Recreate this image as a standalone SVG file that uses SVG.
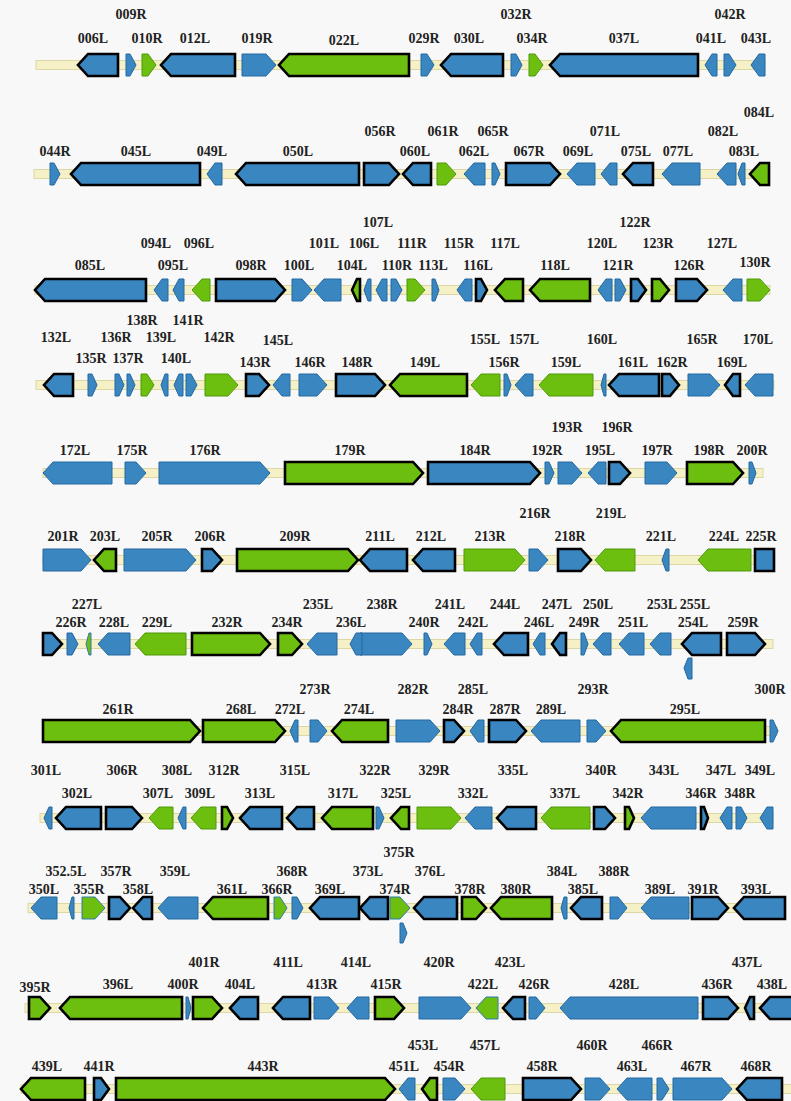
<svg xmlns="http://www.w3.org/2000/svg" width="791" height="1101" viewBox="0 0 791 1101">
<style>
.bg{fill:#f8f8f8}
.bb{fill:#f5f0c6;stroke:#ddd7a6;stroke-width:1}
.b{fill:#3a86c0;stroke:#2368a2;stroke-width:1;stroke-linejoin:miter}
.g{fill:#6cbf0e;stroke:#4f980c;stroke-width:1;stroke-linejoin:miter}
.gb{fill:#6cbf0e;stroke:#2f7ab5;stroke-width:1;stroke-linejoin:miter}
.k{stroke:#000;stroke-width:2.6}
text{font-family:"Liberation Serif",serif;font-weight:bold;font-size:14px;fill:#222;text-anchor:middle}
</style>
<rect class="bg" x="0" y="0" width="791" height="1101"/>
<g id="connectors">
<rect class="bb" x="36" y="60.5" width="729" height="9"/>
<rect class="bb" x="34" y="169.5" width="735" height="9"/>
<rect class="bb" x="35" y="285.5" width="735" height="9"/>
<rect class="bb" x="36" y="380.5" width="738" height="9"/>
<rect class="bb" x="43" y="468.5" width="720" height="9"/>
<rect class="bb" x="43" y="555.5" width="730" height="9"/>
<rect class="bb" x="43" y="639.5" width="730" height="9"/>
<rect class="bb" x="43" y="726.5" width="734" height="9"/>
<rect class="bb" x="40" y="813.5" width="733" height="9"/>
<rect class="bb" x="28" y="903.5" width="757" height="9"/>
<rect class="bb" x="25" y="1003.5" width="770" height="9"/>
<rect class="bb" x="21" y="1084.5" width="775" height="9"/>
</g>

<g id="row1" transform="translate(0,65)">
<g id="g006L"><polygon class="b k" points="118,-11 88,-11 78,0 88,11 118,11"/><text x="93" y="-22">006L</text></g>
<g id="g009R"><polygon class="b" points="126,-11 130,-11 136,0 130,11 126,11"/><text x="131" y="-46">009R</text></g>
<g id="g010R"><polygon class="g" points="142,-11 148,-11 156,0 148,11 142,11"/><text x="147" y="-22">010R</text></g>
<g id="g012L"><polygon class="b k" points="235,-11 171,-11 161,0 171,11 235,11"/><text x="195" y="-22">012L</text></g>
<g id="g019R"><polygon class="b" points="242,-11 266,-11 276,0 266,11 242,11"/><text x="257" y="-22">019R</text></g>
<g id="g022L"><polygon class="g k" points="409,-11 289,-11 279,0 289,11 409,11"/><text x="344" y="-20">022L</text></g>
<g id="g029R"><polygon class="b" points="421,-11 427,-11 434,0 427,11 421,11"/><text x="424" y="-22">029R</text></g>
<g id="g030L"><polygon class="b k" points="503,-11 451,-11 441,0 451,11 503,11"/><text x="469" y="-22">030L</text></g>
<g id="g032R"><polygon class="b" points="511,-11 516,-11 522,0 516,11 511,11"/><text x="516" y="-46">032R</text></g>
<g id="g034R"><polygon class="g" points="529,-11 535,-11 543,0 535,11 529,11"/><text x="532" y="-22">034R</text></g>
<g id="g037L"><polygon class="b k" points="698,-11 560,-11 550,0 560,11 698,11"/><text x="624" y="-22">037L</text></g>
<g id="g041L"><polygon class="b" points="717,-11 712,-11 705,0 712,11 717,11"/><text x="711" y="-22">041L</text></g>
<g id="g042R"><polygon class="b" points="724,-11 729,-11 736,0 729,11 724,11"/><text x="730" y="-46">042R</text></g>
<g id="g043L"><polygon class="b" points="765,-11 759,-11 751,0 759,11 765,11"/><text x="756" y="-22">043L</text></g>
</g>

<g id="row2" transform="translate(0,174)">
<g id="g044R"><polygon class="b" points="50,-11 54,-11 60,0 54,11 50,11"/><text x="55" y="-18">044R</text></g>
<g id="g045L"><polygon class="b k" points="200,-11 81,-11 71,0 81,11 200,11"/><text x="136" y="-18">045L</text></g>
<g id="g049L"><polygon class="b" points="222,-11 215,-11 207,0 215,11 222,11"/><text x="212" y="-18">049L</text></g>
<g id="g050L"><polygon class="b k" points="359,-11 246,-11 236,0 246,11 359,11"/><text x="298" y="-18">050L</text></g>
<g id="g056R"><polygon class="b k" points="364,-11 389,-11 399,0 389,11 364,11"/><text x="380" y="-38">056R</text></g>
<g id="g060L"><polygon class="b k" points="431,-11 413,-11 403,0 413,11 431,11"/><text x="415" y="-18">060L</text></g>
<g id="g061R"><polygon class="g" points="437,-11 446,-11 456,0 446,11 437,11"/><text x="443" y="-38">061R</text></g>
<g id="g062L"><polygon class="b" points="485,-11 474,-11 464,0 474,11 485,11"/><text x="474" y="-18">062L</text></g>
<g id="g065R"><polygon class="b" points="492,-11 495,-11 500,0 495,11 492,11"/><text x="493" y="-38">065R</text></g>
<g id="g067R"><polygon class="b k" points="506,-11 550,-11 560,0 550,11 506,11"/><text x="529" y="-18">067R</text></g>
<g id="g069L"><polygon class="b" points="595,-11 577,-11 567,0 577,11 595,11"/><text x="578" y="-18">069L</text></g>
<g id="g071L"><polygon class="b" points="617,-11 610,-11 601,0 610,11 617,11"/><text x="605" y="-38">071L</text></g>
<g id="g075L"><polygon class="b k" points="653,-11 633,-11 623,0 633,11 653,11"/><text x="636" y="-18">075L</text></g>
<g id="g077L"><polygon class="b" points="700,-11 672,-11 662,0 672,11 700,11"/><text x="678" y="-18">077L</text></g>
<g id="g082L"><polygon class="b" points="736,-11 727,-11 717,0 727,11 736,11"/><text x="723" y="-38">082L</text></g>
<g id="g083L"><polygon class="b" points="745,-11 742,-11 738,0 742,11 745,11"/><text x="744" y="-18">083L</text></g>
<g id="g084L"><polygon class="g k" points="769,-11 760,-11 750,0 760,11 769,11"/><text x="759" y="-57">084L</text></g>
</g>

<g id="row3" transform="translate(0,290)">
<g id="g085L"><polygon class="b k" points="146,-11 45,-11 35,0 45,11 146,11"/><text x="90" y="-20">085L</text></g>
<g id="g094L"><polygon class="b" points="168,-11 162,-11 154,0 162,11 168,11"/><text x="156" y="-42">094L</text></g>
<g id="g095L"><polygon class="b" points="184,-11 179,-11 173,0 179,11 184,11"/><text x="173" y="-20">095L</text></g>
<g id="g096L"><polygon class="g" points="210,-11 202,-11 192,0 202,11 210,11"/><text x="199" y="-42">096L</text></g>
<g id="g098R"><polygon class="b k" points="216,-11 275,-11 285,0 275,11 216,11"/><text x="251" y="-20">098R</text></g>
<g id="g100L"><polygon class="b" points="292,-11 302,-11 312,0 302,11 292,11"/><text x="299" y="-20">100L</text></g>
<g id="g101L"><polygon class="b" points="341,-11 324,-11 314,0 324,11 341,11"/><text x="324" y="-42">101L</text></g>
<g id="g104L"><polygon class="g k" points="360,-11 357,-11 352,0 357,11 360,11"/><text x="352" y="-20">104L</text></g>
<g id="g106L"><polygon class="b" points="371,-11 368,-11 364,0 368,11 371,11"/><text x="364" y="-42">106L</text></g>
<g id="g107L"><polygon class="b" points="387,-11 382,-11 376,0 382,11 387,11"/><text x="378" y="-63">107L</text></g>
<g id="g110R"><polygon class="b" points="391,-11 396,-11 402,0 396,11 391,11"/><text x="397" y="-20">110R</text></g>
<g id="g111R"><polygon class="g" points="407,-11 415,-11 425,0 415,11 407,11"/><text x="412" y="-42">111R</text></g>
<g id="g113L"><polygon class="b" points="432,-11 435,-11 439,0 435,11 432,11"/><text x="433" y="-20">113L</text></g>
<g id="g115R"><polygon class="b" points="472,-11 465,-11 457,0 465,11 472,11"/><text x="459" y="-42">115R</text></g>
<g id="g116L"><polygon class="b k" points="476,-11 481,-11 487,0 481,11 476,11"/><text x="478" y="-20">116L</text></g>
<g id="g117L"><polygon class="g k" points="523,-11 505,-11 495,0 505,11 523,11"/><text x="505" y="-42">117L</text></g>
<g id="g118L"><polygon class="g k" points="590,-11 540,-11 530,0 540,11 590,11"/><text x="555" y="-20">118L</text></g>
<g id="g120L"><polygon class="b" points="612,-11 606,-11 598,0 606,11 612,11"/><text x="602" y="-42">120L</text></g>
<g id="g121R"><polygon class="b" points="615,-11 620,-11 626,0 620,11 615,11"/><text x="618" y="-20">121R</text></g>
<g id="g122R"><polygon class="b k" points="631,-11 638,-11 646,0 638,11 631,11"/><text x="635" y="-63">122R</text></g>
<g id="g123R"><polygon class="g k" points="652,-11 660,-11 669,0 660,11 652,11"/><text x="658" y="-42">123R</text></g>
<g id="g126R"><polygon class="b k" points="676,-11 697,-11 707,0 697,11 676,11"/><text x="689" y="-20">126R</text></g>
<g id="g127L"><polygon class="b" points="742,-11 733,-11 723,0 733,11 742,11"/><text x="722" y="-42">127L</text></g>
<g id="g130R"><polygon class="g" points="747,-11 760,-11 770,0 760,11 747,11"/><text x="755" y="-23">130R</text></g>
</g>

<g id="row4" transform="translate(0,385)">
<g id="g132L"><polygon class="b k" points="73,-11 54,-11 44,0 54,11 73,11"/><text x="56" y="-43">132L</text></g>
<g id="g135R"><polygon class="b" points="88,-11 92,-11 97,0 92,11 88,11"/><text x="91" y="-22">135R</text></g>
<g id="g136R"><polygon class="b" points="115,-11 119,-11 124,0 119,11 115,11"/><text x="116" y="-43">136R</text></g>
<g id="g137R"><polygon class="b" points="127,-11 130,-11 135,0 130,11 127,11"/><text x="128" y="-22">137R</text></g>
<g id="g138R"><polygon class="g" points="141,-11 147,-11 154,0 147,11 141,11"/><text x="142" y="-60">138R</text></g>
<g id="g139L"><polygon class="b" points="168,-11 165,-11 161,0 165,11 168,11"/><text x="161" y="-43">139L</text></g>
<g id="g140L"><polygon class="b" points="183,-11 179,-11 174,0 179,11 183,11"/><text x="176" y="-22">140L</text></g>
<g id="g141R"><polygon class="b" points="186,-11 191,-11 197,0 191,11 186,11"/><text x="188" y="-60">141R</text></g>
<g id="g142R"><polygon class="g" points="205,-11 228,-11 238,0 228,11 205,11"/><text x="219" y="-43">142R</text></g>
<g id="g143R"><polygon class="b k" points="246,-11 259,-11 269,0 259,11 246,11"/><text x="255" y="-18">143R</text></g>
<g id="g145L"><polygon class="b" points="290,-11 282,-11 273,0 282,11 290,11"/><text x="278" y="-40">145L</text></g>
<g id="g146R"><polygon class="b" points="299,-11 317,-11 327,0 317,11 299,11"/><text x="310" y="-18">146R</text></g>
<g id="g148R"><polygon class="b k" points="336,-11 375,-11 385,0 375,11 336,11"/><text x="357" y="-18">148R</text></g>
<g id="g149L"><polygon class="g k" points="467,-11 400,-11 390,0 400,11 467,11"/><text x="425" y="-18">149L</text></g>
<g id="g155L"><polygon class="g" points="500,-11 481,-11 471,0 481,11 500,11"/><text x="485" y="-41">155L</text></g>
<g id="g156R"><polygon class="b" points="504,-11 507,-11 511,0 507,11 504,11"/><text x="504" y="-18">156R</text></g>
<g id="g157L"><polygon class="b" points="533,-11 525,-11 515,0 525,11 533,11"/><text x="524" y="-41">157L</text></g>
<g id="g159L"><polygon class="g" points="593,-11 549,-11 539,0 549,11 593,11"/><text x="566" y="-18">159L</text></g>
<g id="g160L"><polygon class="b" points="606,-11 604,-11 601,0 604,11 606,11"/><text x="602" y="-41">160L</text></g>
<g id="g161L"><polygon class="b k" points="659,-11 619,-11 609,0 619,11 659,11"/><text x="633" y="-18">161L</text></g>
<g id="g162R"><polygon class="b k" points="662,-11 670,-11 679,0 670,11 662,11"/><text x="672" y="-18">162R</text></g>
<g id="g165R"><polygon class="b" points="688,-11 710,-11 720,0 710,11 688,11"/><text x="702" y="-41">165R</text></g>
<g id="g169L"><polygon class="b k" points="740,-11 733,-11 725,0 733,11 740,11"/><text x="732" y="-18">169L</text></g>
<g id="g170L"><polygon class="b" points="773,-11 755,-11 745,0 755,11 773,11"/><text x="758" y="-41">170L</text></g>
</g>

<g id="row5" transform="translate(0,473)">
<g id="g172L"><polygon class="b" points="112,-11 53,-11 43,0 53,11 112,11"/><text x="75" y="-18">172L</text></g>
<g id="g175R"><polygon class="b" points="125,-11 136,-11 146,0 136,11 125,11"/><text x="132" y="-18">175R</text></g>
<g id="g176R"><polygon class="b" points="159,-11 260,-11 270,0 260,11 159,11"/><text x="205" y="-18">176R</text></g>
<g id="g179R"><polygon class="g k" points="285,-11 413,-11 423,0 413,11 285,11"/><text x="350" y="-18">179R</text></g>
<g id="g184R"><polygon class="b k" points="428,-11 530,-11 540,0 530,11 428,11"/><text x="475" y="-18">184R</text></g>
<g id="g192R"><polygon class="b" points="545,-11 549,-11 554,0 549,11 545,11"/><text x="547" y="-18">192R</text></g>
<g id="g193R"><polygon class="b" points="558,-11 572,-11 582,0 572,11 558,11"/><text x="567" y="-41">193R</text></g>
<g id="g195L"><polygon class="b" points="606,-11 598,-11 588,0 598,11 606,11"/><text x="600" y="-18">195L</text></g>
<g id="g196R"><polygon class="b k" points="609,-11 620,-11 630,0 620,11 609,11"/><text x="617" y="-41">196R</text></g>
<g id="g197R"><polygon class="b" points="645,-11 667,-11 677,0 667,11 645,11"/><text x="657" y="-18">197R</text></g>
<g id="g198R"><polygon class="g k" points="687,-11 733,-11 743,0 733,11 687,11"/><text x="709" y="-18">198R</text></g>
<g id="g200R"><polygon class="b" points="749,-11 752,-11 756,0 752,11 749,11"/><text x="752" y="-18">200R</text></g>
</g>

<g id="row6" transform="translate(0,560)">
<g id="g201R"><polygon class="b" points="43,-11 81,-11 91,0 81,11 43,11"/><text x="63" y="-19">201R</text></g>
<g id="g203L"><polygon class="g k" points="116,-11 104,-11 94,0 104,11 116,11"/><text x="105" y="-19">203L</text></g>
<g id="g205R"><polygon class="b" points="124,-11 186,-11 196,0 186,11 124,11"/><text x="157" y="-19">205R</text></g>
<g id="g206R"><polygon class="b k" points="202,-11 212,-11 222,0 212,11 202,11"/><text x="210" y="-19">206R</text></g>
<g id="g209R"><polygon class="g k" points="237,-11 348,-11 358,0 348,11 237,11"/><text x="295" y="-19">209R</text></g>
<g id="g211L"><polygon class="b k" points="407,-11 370,-11 360,0 370,11 407,11"/><text x="380" y="-19">211L</text></g>
<g id="g212L"><polygon class="b k" points="455,-11 423,-11 413,0 423,11 455,11"/><text x="431" y="-19">212L</text></g>
<g id="g213R"><polygon class="g" points="464,-11 515,-11 525,0 515,11 464,11"/><text x="490" y="-19">213R</text></g>
<g id="g216R"><polygon class="b" points="529,-11 538,-11 548,0 538,11 529,11"/><text x="535" y="-42">216R</text></g>
<g id="g218R"><polygon class="b k" points="558,-11 581,-11 591,0 581,11 558,11"/><text x="570" y="-19">218R</text></g>
<g id="g219L"><polygon class="g" points="635,-11 605,-11 595,0 605,11 635,11"/><text x="611" y="-42">219L</text></g>
<g id="g221L"><polygon class="b" points="669,-11 666,-11 662,0 666,11 669,11"/><text x="661" y="-19">221L</text></g>
<g id="g224L"><polygon class="g" points="751,-11 708,-11 698,0 708,11 751,11"/><text x="724" y="-19">224L</text></g>
<g id="g225R"><polygon class="b k" points="755,-11 774,-11 774,11 755,11"/><text x="761" y="-19">225R</text></g>
</g>

<g id="row7" transform="translate(0,644)">
<g id="g226Ra"><polygon class="b k" points="43,-11 52,-11 62,0 52,11 43,11"/></g>
<g id="g226R"><polygon class="b" points="67,-11 72,-11 78,0 72,11 67,11"/><text x="71" y="-17">226R</text></g>
<g id="g227L"><polygon class="gb" points="91,-11 89,-11 86,0 89,11 91,11"/><text x="87" y="-35">227L</text></g>
<g id="g228L"><polygon class="b" points="130,-11 108,-11 98,0 108,11 130,11"/><text x="114" y="-17">228L</text></g>
<g id="g229L"><polygon class="g" points="186,-11 145,-11 135,0 145,11 186,11"/><text x="157" y="-17">229L</text></g>
<g id="g232R"><polygon class="g k" points="192,-11 260,-11 270,0 260,11 192,11"/><text x="227" y="-17">232R</text></g>
<g id="g234R"><polygon class="g k" points="278,-11 292,-11 302,0 292,11 278,11"/><text x="287" y="-17">234R</text></g>
<g id="g235L"><polygon class="b" points="337,-11 317,-11 307,0 317,11 337,11"/><text x="318" y="-35">235L</text></g>
<g id="g238R"><polygon class="b" points="360,-11 402,-11 412,0 402,11 360,11"/><text x="382" y="-35">238R</text></g>
<g id="g236L"><polygon class="b" points="362,-11 356,-11 350,0 356,11 362,11"/><text x="351" y="-17">236L</text></g>
<g id="g240R"><polygon class="b" points="424,-11 427,-11 432,0 427,11 424,11"/><text x="424" y="-17">240R</text></g>
<g id="g241L"><polygon class="b" points="465,-11 454,-11 444,0 454,11 465,11"/><text x="450" y="-35">241L</text></g>
<g id="g242L"><polygon class="b" points="482,-11 477,-11 470,0 477,11 482,11"/><text x="473" y="-17">242L</text></g>
<g id="g244L"><polygon class="b k" points="528,-11 504,-11 494,0 504,11 528,11"/><text x="505" y="-35">244L</text></g>
<g id="g246L"><polygon class="b" points="545,-11 540,-11 533,0 540,11 545,11"/><text x="539" y="-17">246L</text></g>
<g id="g247L"><polygon class="b k" points="566,-11 560,-11 552,0 560,11 566,11"/><text x="557" y="-35">247L</text></g>
<g id="g249R"><polygon class="b" points="581,-11 584,-11 588,0 584,11 581,11"/><text x="584" y="-17">249R</text></g>
<g id="g250L"><polygon class="b" points="611,-11 603,-11 593,0 603,11 611,11"/><text x="598" y="-35">250L</text></g>
<g id="g251L"><polygon class="b" points="644,-11 629,-11 619,0 629,11 644,11"/><text x="633" y="-17">251L</text></g>
<g id="g253L"><polygon class="b" points="671,-11 660,-11 650,0 660,11 671,11"/><text x="662" y="-35">253L</text></g>
<g id="g254L"><polygon class="b k" points="721,-11 692,-11 682,0 692,11 721,11"/><text x="693" y="-17">254L</text></g>
<g id="g255L"><polygon class="b" points="692,14 688,14 684,24 688,35 692,35"/><text x="695" y="-35">255L</text></g>
<g id="g259R"><polygon class="b k" points="727,-11 755,-11 765,0 755,11 727,11"/><text x="743" y="-17">259R</text></g>
</g>

<g id="row8" transform="translate(0,731)">
<g id="g261R"><polygon class="g k" points="43,-11 190,-11 200,0 190,11 43,11"/><text x="118" y="-17">261R</text></g>
<g id="g268L"><polygon class="g k" points="203,-11 275,-11 285,0 275,11 203,11"/><text x="241" y="-17">268L</text></g>
<g id="g272L"><polygon class="b" points="298,-11 295,-11 290,0 295,11 298,11"/><text x="290" y="-17">272L</text></g>
<g id="g273R"><polygon class="b" points="310,-11 318,-11 327,0 318,11 310,11"/><text x="315" y="-37">273R</text></g>
<g id="g274L"><polygon class="g k" points="388,-11 342,-11 332,0 342,11 388,11"/><text x="359" y="-17">274L</text></g>
<g id="g282R"><polygon class="b" points="396,-11 430,-11 440,0 430,11 396,11"/><text x="413" y="-37">282R</text></g>
<g id="g284R"><polygon class="b k" points="444,-11 454,-11 464,0 454,11 444,11"/><text x="458" y="-17">284R</text></g>
<g id="g285L"><polygon class="b" points="484,-11 478,-11 470,0 478,11 484,11"/><text x="473" y="-37">285L</text></g>
<g id="g287R"><polygon class="b k" points="489,-11 516,-11 526,0 516,11 489,11"/><text x="505" y="-17">287R</text></g>
<g id="g289L"><polygon class="b" points="580,-11 541,-11 531,0 541,11 580,11"/><text x="551" y="-17">289L</text></g>
<g id="g293R"><polygon class="b" points="587,-11 596,-11 606,0 596,11 587,11"/><text x="593" y="-37">293R</text></g>
<g id="g295L"><polygon class="g k" points="765,-11 621,-11 611,0 621,11 765,11"/><text x="685" y="-17">295L</text></g>
<g id="g300R"><polygon class="b" points="770,-11 773,-11 778,0 773,11 770,11"/><text x="770" y="-37">300R</text></g>
</g>

<g id="row9" transform="translate(0,818)">
<g id="g301L"><polygon class="b" points="52,-11 49,-11 44,0 49,11 52,11"/><text x="46" y="-43">301L</text></g>
<g id="g302L"><polygon class="b k" points="101,-11 66,-11 56,0 66,11 101,11"/><text x="77" y="-20">302L</text></g>
<g id="g306R"><polygon class="b k" points="106,-11 132,-11 142,0 132,11 106,11"/><text x="122" y="-43">306R</text></g>
<g id="g307L"><polygon class="g" points="173,-11 159,-11 149,0 159,11 173,11"/><text x="158" y="-20">307L</text></g>
<g id="g308L"><polygon class="b" points="186,-11 183,-11 178,0 183,11 186,11"/><text x="177" y="-43">308L</text></g>
<g id="g309L"><polygon class="g" points="216,-11 201,-11 191,0 201,11 216,11"/><text x="200" y="-20">309L</text></g>
<g id="g312R"><polygon class="g k" points="222,-11 227,-11 233,0 227,11 222,11"/><text x="224" y="-43">312R</text></g>
<g id="g313L"><polygon class="b k" points="282,-11 250,-11 240,0 250,11 282,11"/><text x="260" y="-20">313L</text></g>
<g id="g315L"><polygon class="b k" points="314,-11 297,-11 287,0 297,11 314,11"/><text x="295" y="-43">315L</text></g>
<g id="g317L"><polygon class="g k" points="373,-11 332,-11 322,0 332,11 373,11"/><text x="343" y="-20">317L</text></g>
<g id="g322R"><polygon class="b" points="376,-11 379,-11 384,0 379,11 376,11"/><text x="375" y="-43">322R</text></g>
<g id="g325L"><polygon class="g k" points="409,-11 401,-11 391,0 401,11 409,11"/><text x="396" y="-20">325L</text></g>
<g id="g329R"><polygon class="g" points="417,-11 451,-11 461,0 451,11 417,11"/><text x="434" y="-43">329R</text></g>
<g id="g332L"><polygon class="b" points="492,-11 475,-11 465,0 475,11 492,11"/><text x="473" y="-20">332L</text></g>
<g id="g335L"><polygon class="b k" points="536,-11 507,-11 497,0 507,11 536,11"/><text x="513" y="-43">335L</text></g>
<g id="g337L"><polygon class="g" points="590,-11 551,-11 541,0 551,11 590,11"/><text x="565" y="-20">337L</text></g>
<g id="g340R"><polygon class="b k" points="594,-11 605,-11 615,0 605,11 594,11"/><text x="601" y="-43">340R</text></g>
<g id="g342R"><polygon class="g k" points="625,-11 629,-11 634,0 629,11 625,11"/><text x="628" y="-20">342R</text></g>
<g id="g343L"><polygon class="b" points="696,-11 651,-11 641,0 651,11 696,11"/><text x="664" y="-43">343L</text></g>
<g id="g346R"><polygon class="b k" points="701,-11 704,-11 708,0 704,11 701,11"/><text x="701" y="-20">346R</text></g>
<g id="g347L"><polygon class="b" points="732,-11 727,-11 720,0 727,11 732,11"/><text x="721" y="-43">347L</text></g>
<g id="g348R"><polygon class="b" points="736,-11 741,-11 747,0 741,11 736,11"/><text x="740" y="-20">348R</text></g>
<g id="g349L"><polygon class="b" points="773,-11 767,-11 760,0 767,11 773,11"/><text x="760" y="-43">349L</text></g>
</g>

<g id="row10" transform="translate(0,908)">
<g id="g350L"><polygon class="b" points="57,-11 41,-11 31,0 41,11 57,11"/><text x="44" y="-14">350L</text></g>
<g id="g352_5L"><polygon class="b" points="74,-11 72,-11 69,0 72,11 74,11"/><text x="66" y="-32">352.5L</text></g>
<g id="g355R"><polygon class="gb" points="82,-11 95,-11 105,0 95,11 82,11"/><text x="89" y="-14">355R</text></g>
<g id="g357R"><polygon class="b k" points="109,-11 120,-11 130,0 120,11 109,11"/><text x="116" y="-32">357R</text></g>
<g id="g358L"><polygon class="b k" points="152,-11 143,-11 133,0 143,11 152,11"/><text x="138" y="-14">358L</text></g>
<g id="g359L"><polygon class="b" points="198,-11 168,-11 158,0 168,11 198,11"/><text x="175" y="-32">359L</text></g>
<g id="g361L"><polygon class="g k" points="268,-11 213,-11 203,0 213,11 268,11"/><text x="232" y="-14">361L</text></g>
<g id="g366R"><polygon class="gb" points="274,-11 280,-11 287,0 280,11 274,11"/><text x="277" y="-14">366R</text></g>
<g id="g368R"><polygon class="b" points="292,-11 297,-11 303,0 297,11 292,11"/><text x="292" y="-32">368R</text></g>
<g id="g369L"><polygon class="b k" points="359,-11 320,-11 310,0 320,11 359,11"/><text x="330" y="-14">369L</text></g>
<g id="g373L"><polygon class="b k" points="388,-11 370,-11 360,0 370,11 388,11"/><text x="368" y="-32">373L</text></g>
<g id="g374R"><polygon class="gb" points="390,-11 400,-11 410,0 400,11 390,11"/><text x="395" y="-14">374R</text></g>
<g id="g375R"><polygon class="b" points="400,15 403,15 407,25 403,35 400,35"/><text x="399" y="-51">375R</text></g>
<g id="g376L"><polygon class="b k" points="457,-11 424,-11 414,0 424,11 457,11"/><text x="430" y="-32">376L</text></g>
<g id="g378R"><polygon class="g k" points="462,-11 476,-11 486,0 476,11 462,11"/><text x="470" y="-14">378R</text></g>
<g id="g380R"><polygon class="g k" points="552,-11 501,-11 491,0 501,11 552,11"/><text x="516" y="-14">380R</text></g>
<g id="g384L"><polygon class="b" points="567,-11 564,-11 561,0 564,11 567,11"/><text x="562" y="-32">384L</text></g>
<g id="g385L"><polygon class="b k" points="602,-11 581,-11 571,0 581,11 602,11"/><text x="583" y="-14">385L</text></g>
<g id="g388R"><polygon class="b" points="610,-11 618,-11 627,0 618,11 610,11"/><text x="614" y="-32">388R</text></g>
<g id="g389L"><polygon class="b" points="689,-11 651,-11 641,0 651,11 689,11"/><text x="660" y="-14">389L</text></g>
<g id="g391R"><polygon class="b k" points="692,-11 718,-11 728,0 718,11 692,11"/><text x="703" y="-14">391R</text></g>
<g id="g393L"><polygon class="b k" points="785,-11 744,-11 734,0 744,11 785,11"/><text x="756" y="-14">393L</text></g>
</g>

<g id="row11" transform="translate(0,1008)">
<g id="g395R"><polygon class="g k" points="29,-11 40,-11 50,0 40,11 29,11"/><text x="35" y="-16">395R</text></g>
<g id="g396L"><polygon class="g k" points="182,-11 70,-11 60,0 70,11 182,11"/><text x="118" y="-19">396L</text></g>
<g id="g400R"><polygon class="b" points="186,-11 188,-11 191,0 188,11 186,11"/><text x="183" y="-19">400R</text></g>
<g id="g401R"><polygon class="g k" points="193,-11 212,-11 222,0 212,11 193,11"/><text x="204" y="-41">401R</text></g>
<g id="g404L"><polygon class="b k" points="258,-11 240,-11 230,0 240,11 258,11"/><text x="240" y="-19">404L</text></g>
<g id="g411L"><polygon class="b k" points="310,-11 283,-11 273,0 283,11 310,11"/><text x="288" y="-41">411L</text></g>
<g id="g413R"><polygon class="b" points="314,-11 329,-11 339,0 329,11 314,11"/><text x="322" y="-19">413R</text></g>
<g id="g414L"><polygon class="b" points="369,-11 357,-11 347,0 357,11 369,11"/><text x="356" y="-41">414L</text></g>
<g id="g415R"><polygon class="g k" points="375,-11 394,-11 404,0 394,11 375,11"/><text x="386" y="-19">415R</text></g>
<g id="g420R"><polygon class="b" points="419,-11 461,-11 471,0 461,11 419,11"/><text x="439" y="-41">420R</text></g>
<g id="g422L"><polygon class="gb" points="498,-11 486,-11 476,0 486,11 498,11"/><text x="483" y="-19">422L</text></g>
<g id="g423L"><polygon class="b k" points="525,-11 513,-11 503,0 513,11 525,11"/><text x="510" y="-41">423L</text></g>
<g id="g426R"><polygon class="b" points="529,-11 536,-11 545,0 536,11 529,11"/><text x="534" y="-19">426R</text></g>
<g id="g428L"><polygon class="b" points="698,-11 570,-11 560,0 570,11 698,11"/><text x="624" y="-19">428L</text></g>
<g id="g436R"><polygon class="b k" points="703,-11 728,-11 738,0 728,11 703,11"/><text x="717" y="-19">436R</text></g>
<g id="g437L"><polygon class="b k" points="754,-11 750,-11 745,0 750,11 754,11"/><text x="747" y="-41">437L</text></g>
<g id="g438L"><polygon class="b k" points="795,-11 770,-11 760,0 770,11 795,11"/><text x="772" y="-19">438L</text></g>
</g>

<g id="row12" transform="translate(0,1089)">
<g id="g439L"><polygon class="g k" points="85,-11 31,-11 21,0 31,11 85,11"/><text x="47" y="-18">439L</text></g>
<g id="g441R"><polygon class="b k" points="94,-11 101,-11 109,0 101,11 94,11"/><text x="99" y="-18">441R</text></g>
<g id="g443R"><polygon class="g k" points="116,-11 385,-11 395,0 385,11 116,11"/><text x="263" y="-18">443R</text></g>
<g id="g451L"><polygon class="b" points="415,-11 408,-11 399,0 408,11 415,11"/><text x="404" y="-18">451L</text></g>
<g id="g453L"><polygon class="g k" points="437,-11 430,-11 422,0 430,11 437,11"/><text x="423" y="-39">453L</text></g>
<g id="g454R"><polygon class="b" points="443,-11 455,-11 465,0 455,11 443,11"/><text x="449" y="-18">454R</text></g>
<g id="g457L"><polygon class="g" points="505,-11 481,-11 471,0 481,11 505,11"/><text x="485" y="-39">457L</text></g>
<g id="g458R"><polygon class="b k" points="523,-11 571,-11 581,0 571,11 523,11"/><text x="542" y="-18">458R</text></g>
<g id="g460R"><polygon class="b" points="585,-11 600,-11 610,0 600,11 585,11"/><text x="592" y="-39">460R</text></g>
<g id="g463L"><polygon class="b" points="652,-11 627,-11 617,0 627,11 652,11"/><text x="632" y="-18">463L</text></g>
<g id="g466R"><polygon class="b" points="657,-11 662,-11 669,0 662,11 657,11"/><text x="657" y="-39">466R</text></g>
<g id="g467R"><polygon class="b" points="673,-11 722,-11 732,0 722,11 673,11"/><text x="696" y="-18">467R</text></g>
<g id="g468R"><polygon class="b k" points="782,-11 747,-11 737,0 747,11 782,11"/><text x="756" y="-18">468R</text></g>
</g>
</svg>
